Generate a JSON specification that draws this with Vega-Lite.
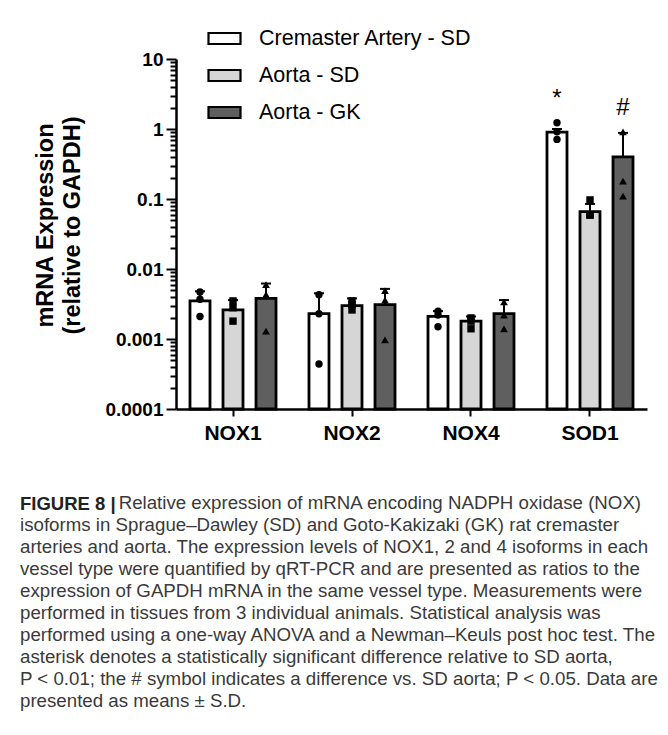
{
  "$schema": "https://vega.github.io/schema/vega-lite/v6.json",
  "width": 471,
  "height": 350,
  "autosize": "none",
  "padding": {"left": 176, "top": 59, "right": 21, "bottom": 326},
  "background": "white",
  "config": {"view": {"stroke": null}, "font": "Liberation Sans"},
  "title": {
    "text": "FIGURE 8 |",
    "subtitle": [
      "\u200b\u00a0\u00a0\u00a0\u00a0\u00a0\u00a0\u00a0\u00a0\u00a0\u00a0\u00a0\u00a0\u00a0\u00a0\u00a0\u00a0\u00a0\u00a0\u00a0Relative expression of mRNA encoding NADPH oxidase (NOX)",
      "isoforms in Sprague–Dawley (SD) and Goto-Kakizaki (GK) rat cremaster",
      "arteries and aorta. The expression levels of NOX1, 2 and 4 isoforms in each",
      "vessel type were quantified by qRT-PCR and are presented as ratios to the",
      "expression of GAPDH mRNA in the same vessel type. Measurements were",
      "performed in tissues from 3 individual animals. Statistical analysis was",
      "performed using a one-way ANOVA and a Newman–Keuls post hoc test. The",
      "asterisk denotes a statistically significant difference relative to SD aorta,",
      "P < 0.01; the # symbol indicates a difference vs. SD aorta; P < 0.05. Data are",
      "presented as means ± S.D."
    ],
    "orient": "bottom",
    "anchor": "start",
    "frame": "group",
    "dx": -156,
    "offset": 52,
    "font": "Liberation Sans",
    "fontSize": 18.5,
    "fontWeight": "bold",
    "color": "#222222",
    "subtitleFont": "Liberation Sans",
    "subtitleFontSize": 18.7,
    "subtitleFontWeight": "normal",
    "subtitleColor": "#3a3a3a",
    "subtitleLineHeight": 22,
    "subtitlePadding": -20
  },
  "datasets": {
    "bars": [
      {"gene": "NOX1", "group": "Cremaster Artery - SD", "mean": 0.0035, "top": 0.0048},
      {"gene": "NOX1", "group": "Aorta - SD", "mean": 0.0026, "top": 0.0036},
      {"gene": "NOX1", "group": "Aorta - GK", "mean": 0.0038, "top": 0.0062},
      {"gene": "NOX2", "group": "Cremaster Artery - SD", "mean": 0.0023, "top": 0.0045},
      {"gene": "NOX2", "group": "Aorta - SD", "mean": 0.003, "top": 0.0038},
      {"gene": "NOX2", "group": "Aorta - GK", "mean": 0.0031, "top": 0.0052},
      {"gene": "NOX4", "group": "Cremaster Artery - SD", "mean": 0.0021, "top": 0.0025},
      {"gene": "NOX4", "group": "Aorta - SD", "mean": 0.0018, "top": 0.0021},
      {"gene": "NOX4", "group": "Aorta - GK", "mean": 0.0023, "top": 0.0036},
      {"gene": "SOD1", "group": "Cremaster Artery - SD", "mean": 0.9, "top": 1.0},
      {"gene": "SOD1", "group": "Aorta - SD", "mean": 0.066, "top": 0.085},
      {"gene": "SOD1", "group": "Aorta - GK", "mean": 0.4, "top": 0.88}
    ],
    "points": [
      {"gene": "NOX1", "group": "Cremaster Artery - SD", "pos": "l", "value": 0.0047},
      {"gene": "NOX1", "group": "Cremaster Artery - SD", "pos": "r", "value": 0.0037},
      {"gene": "NOX1", "group": "Cremaster Artery - SD", "pos": "c", "value": 0.0021},
      {"gene": "NOX1", "group": "Aorta - SD", "pos": "l", "value": 0.0035},
      {"gene": "NOX1", "group": "Aorta - SD", "pos": "r", "value": 0.0028},
      {"gene": "NOX1", "group": "Aorta - SD", "pos": "c", "value": 0.0018},
      {"gene": "NOX1", "group": "Aorta - GK", "pos": "c", "value": 0.006},
      {"gene": "NOX1", "group": "Aorta - GK", "pos": "c", "value": 0.0043},
      {"gene": "NOX1", "group": "Aorta - GK", "pos": "c", "value": 0.0013},
      {"gene": "NOX2", "group": "Cremaster Artery - SD", "pos": "c", "value": 0.0043},
      {"gene": "NOX2", "group": "Cremaster Artery - SD", "pos": "c", "value": 0.0023},
      {"gene": "NOX2", "group": "Cremaster Artery - SD", "pos": "c", "value": 0.00044},
      {"gene": "NOX2", "group": "Aorta - SD", "pos": "l", "value": 0.0026},
      {"gene": "NOX2", "group": "Aorta - SD", "pos": "c", "value": 0.0035},
      {"gene": "NOX2", "group": "Aorta - SD", "pos": "r", "value": 0.0031},
      {"gene": "NOX2", "group": "Aorta - GK", "pos": "c", "value": 0.0049},
      {"gene": "NOX2", "group": "Aorta - GK", "pos": "c", "value": 0.0036},
      {"gene": "NOX2", "group": "Aorta - GK", "pos": "c", "value": 0.00097},
      {"gene": "NOX4", "group": "Cremaster Artery - SD", "pos": "l", "value": 0.0025},
      {"gene": "NOX4", "group": "Cremaster Artery - SD", "pos": "r", "value": 0.0022},
      {"gene": "NOX4", "group": "Cremaster Artery - SD", "pos": "c", "value": 0.0015},
      {"gene": "NOX4", "group": "Aorta - SD", "pos": "l", "value": 0.002},
      {"gene": "NOX4", "group": "Aorta - SD", "pos": "r", "value": 0.0018},
      {"gene": "NOX4", "group": "Aorta - SD", "pos": "l", "value": 0.0014},
      {"gene": "NOX4", "group": "Aorta - GK", "pos": "c", "value": 0.0034},
      {"gene": "NOX4", "group": "Aorta - GK", "pos": "c", "value": 0.0022},
      {"gene": "NOX4", "group": "Aorta - GK", "pos": "c", "value": 0.0014},
      {"gene": "SOD1", "group": "Cremaster Artery - SD", "pos": "c", "value": 1.23},
      {"gene": "SOD1", "group": "Cremaster Artery - SD", "pos": "r", "value": 0.91},
      {"gene": "SOD1", "group": "Cremaster Artery - SD", "pos": "l", "value": 0.71},
      {"gene": "SOD1", "group": "Aorta - SD", "pos": "c", "value": 0.097},
      {"gene": "SOD1", "group": "Aorta - SD", "pos": "l", "value": 0.059},
      {"gene": "SOD1", "group": "Aorta - SD", "pos": "r", "value": 0.059},
      {"gene": "SOD1", "group": "Aorta - GK", "pos": "c", "value": 0.91},
      {"gene": "SOD1", "group": "Aorta - GK", "pos": "c", "value": 0.18},
      {"gene": "SOD1", "group": "Aorta - GK", "pos": "c", "value": 0.11}
    ],
    "annot": [
      {"gene": "SOD1", "group": "Cremaster Artery - SD", "label": "*", "value": 2.7},
      {"gene": "SOD1", "group": "Aorta - GK", "label": "#", "value": 2.0}
    ]
  },
  "layer": [
    {
      "data": {"name": "bars"},
      "mark": {"type": "bar", "stroke": "black", "strokeWidth": 2.8},
      "encoding": {
        "x": {
          "field": "gene", "type": "nominal", "sort": null,
          "scale": {"paddingInner": 0.042, "paddingOuter": 0},
          "axis": {
            "title": null, "labelAngle": 0, "labelFont": "Liberation Sans", "labelFontSize": 21,
            "labelFontWeight": "bold", "labelColor": "black", "labelPadding": 6,
            "tickSize": 7, "tickWidth": 2, "tickColor": "black",
            "domainWidth": 2.5, "domainColor": "black"
          }
        },
        "xOffset": {
          "field": "group", "type": "nominal", "sort": null,
          "scale": {"type": "band", "domain": ["Cremaster Artery - SD", "Aorta - SD", "Aorta - GK"], "paddingInner": 0.394, "paddingOuter": 0.424}
        },
        "y": {
          "field": "mean", "type": "quantitative",
          "scale": {"type": "log", "domain": [0.0001, 10], "nice": false},
          "title": ["mRNA Expression", "(relative to GAPDH)"],
          "axis": {
            "values": [0.0001, 0.0002, 0.0003, 0.0004, 0.0005, 0.0006, 0.0007, 0.0008, 0.0009,
                       0.001, 0.002, 0.003, 0.004, 0.005, 0.006, 0.007, 0.008, 0.009,
                       0.01, 0.02, 0.03, 0.04, 0.05, 0.06, 0.07, 0.08, 0.09,
                       0.1, 0.2, 0.3, 0.4, 0.5, 0.6, 0.7, 0.8, 0.9,
                       1, 2, 3, 4, 5, 6, 7, 8, 9, 10],
            "labelExpr": "abs(log(datum.value)/LN10 - round(log(datum.value)/LN10)) < 0.001 ? format(datum.value, '~g') : ''",
            "labelOverlap": false, "labelFlush": false,
            "labelFont": "Liberation Sans", "labelFontSize": 19, "labelFontWeight": "bold", "labelColor": "black",
            "labelPadding": 3,
            "tickSize": {"condition": {"test": "abs(log(datum.value)/LN10 - round(log(datum.value)/LN10)) < 0.001", "value": 10}, "value": 6},
            "tickWidth": 2, "tickColor": "black",
            "domainWidth": 2.5, "domainColor": "black",
            "grid": false,
            "titleFont": "Liberation Sans", "titleFontSize": 23.5, "titleFontWeight": "bold", "titleColor": "black",
            "titlePadding": 20, "titleLineHeight": 27, "titleY": 166
          }
        },
        "y2": {"datum": 0.0001},
        "fill": {
          "field": "group", "type": "nominal",
          "scale": {"domain": ["Cremaster Artery - SD", "Aorta - SD", "Aorta - GK"], "range": ["#ffffff", "#d6d6d6", "#5f5f5f"]},
          "legend": {
            "title": null, "orient": "none", "legendX": 31, "legendY": -38,
            "symbolType": "M-1,-0.344H1V0.344H-1Z", "symbolSize": 1024,
            "symbolStrokeColor": "black", "symbolStrokeWidth": 2.2, "symbolOpacity": 1,
            "labelFont": "Liberation Sans", "labelFontSize": 21.5, "labelColor": "black",
            "labelOffset": 17, "rowPadding": 9, "labelLimit": 400
          }
        }
      }
    },
    {
      "data": {"name": "bars"},
      "mark": {"type": "rule", "strokeWidth": 2, "color": "black"},
      "encoding": {
        "x": {"field": "gene", "type": "nominal", "sort": null},
        "xOffset": {"field": "group", "type": "nominal", "sort": null},
        "y": {"field": "mean", "type": "quantitative"},
        "y2": {"field": "top"}
      }
    },
    {
      "data": {"name": "bars"},
      "mark": {"type": "tick", "thickness": 2, "size": 10, "color": "black", "opacity": 1},
      "encoding": {
        "x": {"field": "gene", "type": "nominal", "sort": null},
        "xOffset": {"field": "group", "type": "nominal", "sort": null},
        "y": {"field": "top", "type": "quantitative"}
      }
    },
    {
      "data": {"name": "points"},
      "transform": [{"filter": "datum.group === 'Cremaster Artery - SD'"}],
      "mark": {"type": "point", "shape": "circle", "filled": true, "color": "black", "size": 55, "opacity": 1,
               "xOffset": {"expr": "datum.pos === 'l' ? -6.5 : datum.pos === 'r' ? 6.5 : 0"}},
      "encoding": {
        "x": {"field": "gene", "type": "nominal", "sort": null},
        "xOffset": {"field": "group", "type": "nominal", "sort": null},
        "y": {"field": "value", "type": "quantitative"}
      }
    },
    {
      "data": {"name": "points"},
      "transform": [{"filter": "datum.group === 'Aorta - SD'"}],
      "mark": {"type": "point", "shape": "square", "filled": true, "color": "black", "size": 55, "opacity": 1,
               "xOffset": {"expr": "datum.pos === 'l' ? -6.5 : datum.pos === 'r' ? 6.5 : 0"}},
      "encoding": {
        "x": {"field": "gene", "type": "nominal", "sort": null},
        "xOffset": {"field": "group", "type": "nominal", "sort": null},
        "y": {"field": "value", "type": "quantitative"}
      }
    },
    {
      "data": {"name": "points"},
      "transform": [{"filter": "datum.group === 'Aorta - GK'"}],
      "mark": {"type": "point", "shape": "triangle-up", "filled": true, "color": "black", "size": 60, "opacity": 1,
               "xOffset": {"expr": "datum.pos === 'l' ? -6.5 : datum.pos === 'r' ? 6.5 : 0"}},
      "encoding": {
        "x": {"field": "gene", "type": "nominal", "sort": null},
        "xOffset": {"field": "group", "type": "nominal", "sort": null},
        "y": {"field": "value", "type": "quantitative"}
      }
    },
    {
      "data": {"name": "annot"},
      "mark": {"type": "text", "font": "Liberation Sans", "fontSize": 24, "baseline": "middle", "color": "black"},
      "encoding": {
        "x": {"field": "gene", "type": "nominal", "sort": null},
        "xOffset": {"field": "group", "type": "nominal", "sort": null},
        "y": {"field": "value", "type": "quantitative"},
        "text": {"field": "label"}
      }
    }
  ]
}
